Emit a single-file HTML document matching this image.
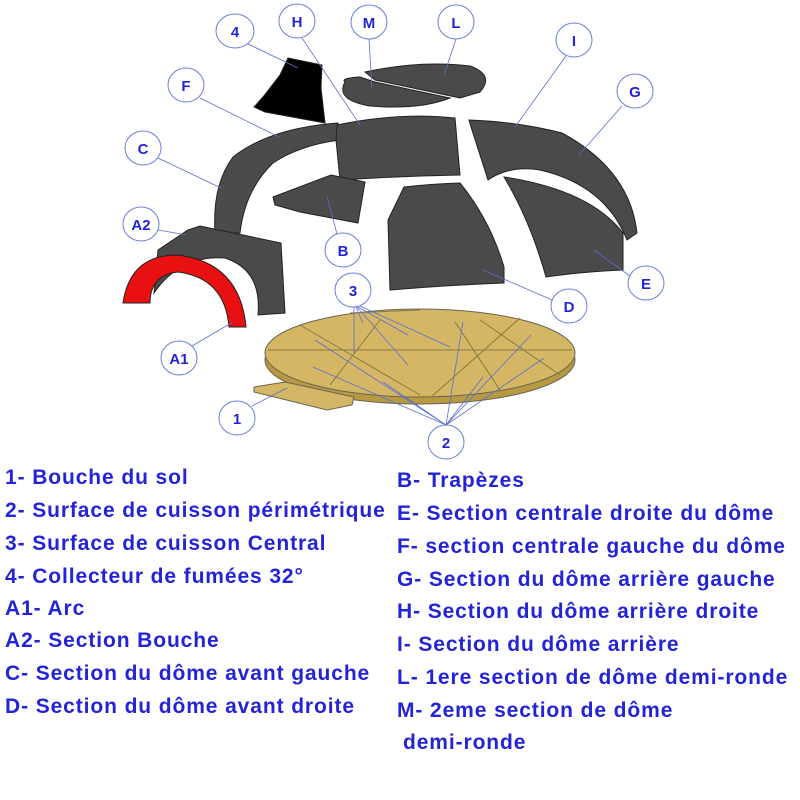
<!DOCTYPE html>
<html><head><style>
body{margin:0;background:#fff;width:800px;height:800px;overflow:hidden;position:relative;font-family:"Liberation Sans",sans-serif}
.t{position:absolute;color:#2323d8;font-weight:bold;font-size:21px;letter-spacing:0.9px;white-space:nowrap;line-height:22px}
</style></head><body>
<svg width="800" height="460" style="position:absolute;left:0;top:0">
<g stroke="#222" stroke-width="1">
<!-- L, M -->
<path d="M365,72 Q420,60 470,66 Q495,75 480,92 L460,98 L375,80Z" fill="#4a4a4a"/>
<path d="M345,82 Q340,78 360,77 L375,82 L450,98 Q420,110 370,106 Q335,100 345,82Z" fill="#4a4a4a"/>
<!-- 4 -->
<path d="M288,58 L322,65 L321,88 L325,123 L265,112 L254,107 L263,97 L280,75Z" fill="#000"/>
<!-- F + C -->
<path d="M215,233 Q212,185 233,157 Q270,128 338,123 L340,140 Q300,145 273,163 Q245,190 240,233Z" fill="#4b4b4b"/>
<!-- H -->
<path d="M337,125 Q400,112 455,118 L460,175 Q400,176 340,180 L336,140Z" fill="#4a4a4a"/>
<!-- B -->
<path d="M273,197 L331,175 L365,182 L358,223 L300,212 L275,205Z" fill="#4a4a4a"/>
<!-- D -->
<path d="M404,187 Q430,184 460,183 Q490,220 504,267 L504,283 Q450,285 390,290 L388,220Z" fill="#4a4a4a"/>
<!-- I, G -->
<path d="M469,120 Q520,122 562,133 Q630,170 637,233 L627,240 Q605,185 540,170 Q510,165 488,180 L472,130Z" fill="#4a4a4a"/>
<!-- E -->
<path d="M504,177 Q590,190 623,233 L623,270 Q580,272 546,277 Q530,220 504,177Z" fill="#4a4a4a"/>
<!-- A2 -->
<path d="M188,230 L200,226 L281,243 L285,313 L258,315 Q262,270 225,258 Q180,255 154,293 L158,250Z" fill="#4a4a4a"/>
<!-- A1 -->
<path d="M123,303 Q130,255 177,255 Q240,262 246,327 L229,327 Q225,278 178,272 Q150,275 150,303Z" fill="#e81010"/>
<!-- base -->
<ellipse cx="420" cy="360" rx="155" ry="44" fill="#b89840" stroke="#665"/>
<ellipse cx="420" cy="353" rx="155" ry="44" fill="#d4b664" stroke="#665"/>
<path d="M268,350 L572,350 M300,325 L420,395 M520,318 L430,398 M350,313 L420,310 M380,320 L330,385 M455,322 L500,390 M480,320 L560,375" stroke="#8a7a40" fill="none"/>
<path d="M254,387 L285,382 L354,397 L352,405 L327,410 L254,392Z" fill="#d4b664" stroke="#665"/>
</g>
<g stroke="#5a6fd0" stroke-width="0.8" fill="none">
<path d="M248,44 L298,68 M302,38 L360,125 M369,39 L372,89 M456,39 L444,75 M566,56 L515,127 M200,98 L279,137 M622,106 L579,155 M158,158 L221,188 M158,230 L187,235 M337,234 L327,197 M630,276 L594,250 M552,300 L483,270 M192,346 L233,322 M252,406 L287,388
M354,307 L354,353 M356,307 L363,323 M358,307 L408,335 M357,307 L408,365 M360,306 L450,347
M446,425 L315,340 M446,425 L313,367 M446,425 L383,382 M446,425 L463,322 M446,425 L483,377 M446,425 L531,335 M446,425 L544,358"/>
</g>
<g fill="#fff" stroke="#6a7ed8" stroke-width="1">
<ellipse cx="235" cy="31" rx="19" ry="17"/><ellipse cx="297" cy="21" rx="18" ry="17"/><ellipse cx="369" cy="22" rx="18" ry="17"/><ellipse cx="456" cy="22" rx="18" ry="17"/><ellipse cx="574" cy="40" rx="18" ry="17"/><ellipse cx="186" cy="85" rx="18" ry="17"/><ellipse cx="635" cy="91" rx="18" ry="17"/><ellipse cx="143" cy="148" rx="18" ry="17"/><ellipse cx="141" cy="224" rx="18" ry="17"/><ellipse cx="343" cy="250" rx="18" ry="17"/><ellipse cx="646" cy="283" rx="18" ry="17"/><ellipse cx="353" cy="290" rx="18" ry="17"/><ellipse cx="569" cy="306" rx="18" ry="17"/><ellipse cx="179" cy="358" rx="18" ry="17"/><ellipse cx="237" cy="418" rx="18" ry="17"/><ellipse cx="446" cy="442" rx="18" ry="17"/>
</g>
<g fill="#2323d8" font-weight="bold" font-size="15" text-anchor="middle" font-family="Liberation Sans">
<text x="235" y="37">4</text><text x="297" y="27">H</text><text x="369" y="28">M</text><text x="456" y="28">L</text><text x="574" y="46">I</text><text x="186" y="91">F</text><text x="635" y="97">G</text><text x="143" y="154">C</text><text x="141" y="230">A2</text><text x="343" y="256">B</text><text x="646" y="289">E</text><text x="353" y="296">3</text><text x="569" y="312">D</text><text x="179" y="364">A1</text><text x="237" y="424">1</text><text x="446" y="448">2</text>
</g>
</svg>
<div class="t" style="left:5px;top:467px">1- Bouche du sol</div>
<div class="t" style="left:5px;top:500px">2- Surface de cuisson périmétrique</div>
<div class="t" style="left:5px;top:533px">3- Surface de cuisson Central</div>
<div class="t" style="left:5px;top:566px">4- Collecteur de fumées 32°</div>
<div class="t" style="left:5px;top:598px">A1- Arc</div>
<div class="t" style="left:5px;top:630px">A2- Section Bouche</div>
<div class="t" style="left:5px;top:663px">C- Section du dôme avant gauche</div>
<div class="t" style="left:5px;top:696px">D- Section du dôme avant droite</div>
<div class="t" style="left:397px;top:470px">B- Trapèzes</div>
<div class="t" style="left:397px;top:503px">E- Section centrale droite du dôme</div>
<div class="t" style="left:397px;top:536px">F- section centrale gauche du dôme</div>
<div class="t" style="left:397px;top:569px">G- Section du dôme arrière gauche</div>
<div class="t" style="left:397px;top:601px">H- Section du dôme arrière droite</div>
<div class="t" style="left:397px;top:634px">I- Section du dôme arrière</div>
<div class="t" style="left:397px;top:667px">L- 1ere section de dôme demi-ronde</div>
<div class="t" style="left:397px;top:700px">M- 2eme section de dôme</div>
<div class="t" style="left:403px;top:732px">demi-ronde</div>
</body></html>
